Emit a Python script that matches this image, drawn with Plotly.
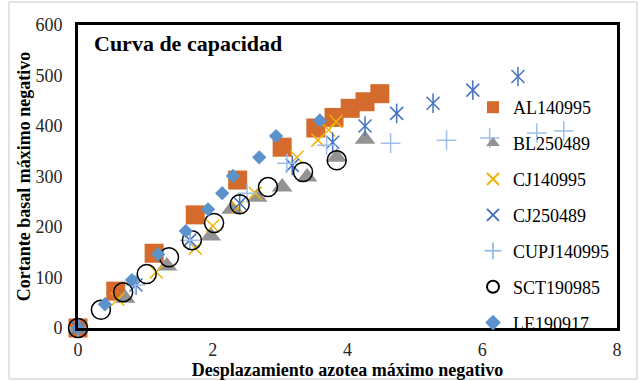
import plotly.graph_objects as go

# ---------------- data ----------------
AL140995_x = [0, 0.56, 1.13, 1.74, 2.37, 3.03, 3.53, 3.80, 4.04, 4.26, 4.48]
AL140995_y = [0, 73, 148, 224, 293, 358, 396, 417, 435, 448, 464]

BL250489_x = [0, 0.70, 1.32, 1.97, 2.28, 2.66, 3.03, 3.40, 3.84, 4.26]
BL250489_y = [0, 59, 123, 182, 235, 259, 279, 299, 338, 374]

CJ140995_x = [0, 0.59, 1.16, 1.74, 2.00, 2.37, 2.63, 3.25, 3.56, 3.72, 3.83]
CJ140995_y = [0, 57, 111, 158, 202, 239, 267, 338, 372, 392, 409]

CJ250489_x = [0, 0.86, 1.66, 2.40, 3.18, 3.78, 4.26, 4.73, 5.27, 5.86, 6.53]
CJ250489_y = [0, 85, 174, 247, 322, 368, 400, 425, 445, 471, 498]

CUPJ140995_x = [0, 0.85, 1.66, 2.51, 3.10, 3.69, 4.64, 5.47, 6.11, 6.81, 7.21]
CUPJ140995_y = [0, 85, 174, 267, 326, 362, 366, 372, 376, 386, 390]

SCT190985_x = [0, 0.34, 0.67, 1.02, 1.35, 1.69, 2.02, 2.40, 2.82, 3.34, 3.84]
SCT190985_y = [0, 36, 71, 107, 140, 174, 208, 245, 279, 309, 332]

LE190917_x = [0, 0.40, 0.80, 1.19, 1.60, 1.93, 2.14, 2.30, 2.69, 2.94, 3.59]
LE190917_y = [0, 47, 95, 146, 192, 235, 267, 301, 338, 380, 411]

x_ticks = [0, 2, 4, 6, 8]
y_ticks = [0, 100, 200, 300, 400, 500, 600]

FONT = "Liberation Serif, Times New Roman, serif"

fig = go.Figure()

fig.add_trace(go.Scatter(
    x=AL140995_x, y=AL140995_y, mode="markers", name="AL140995", legendgroup="a",
    marker=dict(symbol="square", size=19, color="#D46A2C"), cliponaxis=False))

fig.add_trace(go.Scatter(
    x=BL250489_x, y=BL250489_y, mode="markers", name="BL250489", legendgroup="b",
    marker=dict(symbol="triangle-up", size=18, color="#939393"), cliponaxis=False))

fig.add_trace(go.Scatter(
    x=CJ140995_x, y=CJ140995_y, mode="markers", name="CJ140995", legendgroup="c",
    marker=dict(symbol="x-thin-open", size=13, color="#F0B400",
                line=dict(width=1.5, color="#F0B400")), cliponaxis=False))

fig.add_trace(go.Scatter(
    x=CJ250489_x, y=CJ250489_y, mode="markers", name="CJ250489", legendgroup="d",
    marker=dict(symbol="x-thin-open", size=13, color="#4472C4",
                line=dict(width=1.5, color="#4472C4")), cliponaxis=False))
fig.add_trace(go.Scatter(
    x=CJ250489_x, y=CJ250489_y, mode="markers", name="CJ250489", legendgroup="d",
    showlegend=False, hoverinfo="skip",
    marker=dict(symbol="line-ns-open", size=14, color="#4472C4",
                line=dict(width=1.5, color="#4472C4")), cliponaxis=False))

fig.add_trace(go.Scatter(
    x=CUPJ140995_x, y=CUPJ140995_y, mode="markers", name="CUPJ140995", legendgroup="e",
    marker=dict(symbol="cross-thin-open", size=14, color="#9DC0E8",
                line=dict(width=1.5, color="#9DC0E8")), cliponaxis=False))

fig.add_trace(go.Scatter(
    x=SCT190985_x, y=SCT190985_y, mode="markers", name="SCT190985", legendgroup="f",
    marker=dict(symbol="circle-open", size=19, color="#000000",
                line=dict(width=1.5, color="#000000")), cliponaxis=False))

fig.add_trace(go.Scatter(
    x=LE190917_x, y=LE190917_y, mode="markers", name="LE190917", legendgroup="g",
    marker=dict(symbol="diamond", size=11, color="#5B92CC"), cliponaxis=False))

L, R, T, B = 78, 22, 25, 53
W, H = 639, 381
pw, ph = W - L - R, H - T - B

def px_x(p):
    return (p - L) / pw

def px_y(p):
    return (H - B - p) / ph

fig.update_layout(
    width=W, height=H,
    margin=dict(l=L, r=R, t=T, b=B, autoexpand=False),
    paper_bgcolor="white", plot_bgcolor="white",
    font=dict(family=FONT, size=18, color="#000000"),
    showlegend=True,
    legend=dict(
        x=px_x(473), y=px_y(89), xanchor="left", yanchor="top",
        bgcolor="rgba(0,0,0,0)", borderwidth=0,
        font=dict(family=FONT, size=18, color="#000000"),
        traceorder="grouped", tracegroupgap=9.5, itemsizing="constant",
    ),
    xaxis=dict(
        range=[0, 8], tickvals=x_ticks, ticktext=[str(v) for v in x_ticks],
        showgrid=False, zeroline=False,
        showline=True, linecolor="black", linewidth=3, mirror=True,
        ticks="", ticklabelstandoff=3,
        tickfont=dict(family=FONT, size=18, color="#262626"),
        title=dict(text="<b>Desplazamiento azotea máximo negativo</b>",
                   font=dict(family=FONT, size=18, color="#000000"), standoff=0),
    ),
    yaxis=dict(
        range=[0, 600], tickvals=y_ticks, ticktext=[str(v) for v in y_ticks],
        showgrid=False, zeroline=False,
        showline=True, linecolor="black", linewidth=3, mirror=True,
        ticks="", ticklabelstandoff=9,
        tickfont=dict(family=FONT, size=18, color="#262626"),
        title=dict(text="<b>Cortante basal máximo negativo</b>",
                   font=dict(family=FONT, size=18, color="#000000"), standoff=1),
    ),
    annotations=[
        dict(text="<b>Curva de capacidad</b>", xref="paper", yref="paper",
             x=px_x(92), y=px_y(44), xanchor="left", yanchor="middle",
             showarrow=False, font=dict(family=FONT, size=22, color="#000000")),
    ],
    shapes=[
        dict(type="rect", xref="paper", yref="paper",
             x0=px_x(9), x1=px_x(637), y0=px_y(379), y1=px_y(2),
             line=dict(color="#C8C8C8", width=1), fillcolor="rgba(0,0,0,0)",
             layer="below"),
    ],
)

fig.write_html("out.html", config={"displayModeBar": False},
               post_script="document.body.style.margin='0';")
